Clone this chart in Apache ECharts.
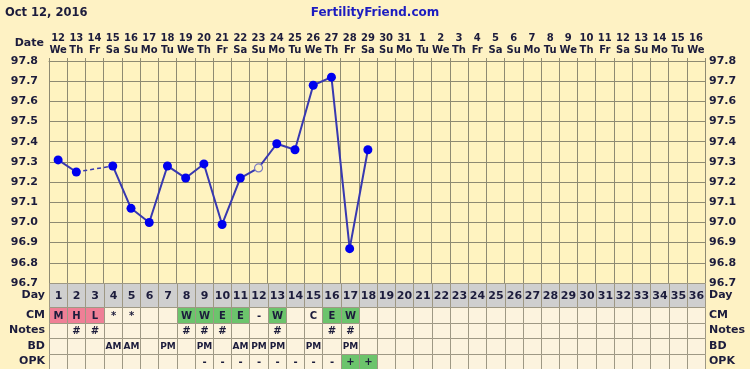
<!DOCTYPE html>
<html>
<head>
<meta charset="utf-8">
<script src="https://cdn.jsdelivr.net/npm/echarts@6/dist/echarts.min.js"></script>
<style>
html,body{margin:0;padding:0;background:#FEF2C4;}
#chart{width:750px;height:369px;}
</style>
</head>
<body>
<div id="chart"></div>
<script>
// ---- data ----
const dateNums = ['12','13','14','15','16','17','18','19','20','21','22','23','24','25','26','27','28','29','30','31','1','2','3','4','5','6','7','8','9','10','11','12','13','14','15','16'];
const dayNames = ['We','Th','Fr','Sa','Su','Mo','Tu','We','Th','Fr','Sa','Su','Mo','Tu','We','Th','Fr','Sa','Su','Mo','Tu','We','Th','Fr','Sa','Su','Mo','Tu','We','Th','Fr','Sa','Su','Mo','Tu','We'];
const cycleDays = ['1','2','3','4','5','6','7','8','9','10','11','12','13','14','15','16','17','18','19','20','21','22','23','24','25','26','27','28','29','30','31','32','33','34','35','36'];
const temps = [97.31, 97.25, null, 97.28, 97.07, 97.00, 97.28, 97.22, 97.29, 96.99, 97.22, 97.27, 97.39, 97.36, 97.68, 97.72, 96.87, 97.36];
const openDays = [12];
const rowNames = ['CM','Notes','BD','OPK'];
const cmRow    = ['M','H','L','*','*','','','W','W','E','E','-','W','','C','E','W',''];
const notesRow = ['','#','#','','','','','#','#','#','','','#','','','#','#',''];
const bdRow    = ['','','','AM','AM','','PM','','PM','','AM','PM','PM','','PM','','PM',''];
const opkRow   = ['','','','','','','','','-','-','-','-','-','-','-','-','+','+'];
const yTicks = {min: 96.7, max: 97.8, step: 0.1};

// ---- styles ----
const PINK = '#EF7F96', GREEN = '#6CC46C', CREAM = '#FCF3DE', GRAY = '#CFCFCF';
const BORDER = '#9E9884', GRID = '#8E8A72', TXT = '#1C1C3C';
const FONT = "'DejaVu Sans', sans-serif";
const fillFor = {M: PINK, H: PINK, L: PINK, W: GREEN, E: GREEN, '+': GREEN};

const N = dateNums.length;
const tableRows = [cmRow, notesRow, bdRow, opkRow];
const cells = [];
for (let r = 0; r < tableRows.length; r++) {
  for (let i = 0; i < N; i++) {
    const t = tableRows[r][i] || '';
    cells.push({col: i, row: r, text: t, fill: (r === 0 || r === 3) && fillFor[t] ? fillFor[t] : CREAM});
  }
}
const dayCells = cycleDays.map((d, i) => ({col: i, row: 0, text: d, fill: GRAY}));

// main series data
const mainData = temps.map((v, i) => {
  if (v == null) return '-';
  if (openDays.indexOf(i + 1) >= 0) {
    return {value: v, symbol: 'circle', symbolSize: 8,
      itemStyle: {color: '#FFF4C0', borderColor: '#7C7CC4', borderWidth: 1.2}};
  }
  return v;
});
// dashed bridges across missing days
const bridgeData = new Array(temps.length).fill('-');
for (let i = 0; i < temps.length; i++) {
  if (temps[i] == null) {
    let a = i - 1, b = i + 1;
    while (a >= 0 && temps[a] == null) a--;
    while (b < temps.length && temps[b] == null) b++;
    if (a >= 0 && b < temps.length) { bridgeData[a] = temps[a]; bridgeData[b] = temps[b]; }
  }
}

function cellRenderer(list, fontSizeFn) {
  return function (params, api) {
    const c = list[params.dataIndex];
    const p = api.coord([api.value(0), api.value(1)]);
    const s = api.size([1, 1]);
    const x0 = Math.round(p[0] - s[0] / 2) + 0.5, x1 = Math.round(p[0] + s[0] / 2) + 0.5;
    const y0 = Math.round(p[1] - s[1] / 2) + 0.5, y1 = Math.round(p[1] + s[1] / 2) + 0.5;
    return {type: 'group', children: [
      {type: 'rect', shape: {x: x0, y: y0, width: x1 - x0, height: y1 - y0},
        style: {fill: c.fill, stroke: BORDER, lineWidth: 1}},
      {type: 'text', style: {text: c.text, x: (x0 + x1) / 2, y: (y0 + y1) / 2 + 0.5,
        align: 'center', verticalAlign: 'middle',
        font: 'bold ' + fontSizeFn(c.text) + 'px ' + FONT, fill: TXT}}
    ]};
  };
}

const chart = echarts.init(document.getElementById('chart'), null, {renderer: 'canvas'});
const labelFmt = v => Number(v).toFixed(1);
chart.setOption({
  backgroundColor: '#FEF2C4',
  animation: false,
  textStyle: {fontFamily: FONT},
  graphic: [
    {type: 'text', left: 5, top: 7, style: {text: 'Oct 12, 2016', font: 'bold 11.5px ' + FONT, fill: TXT}},
    {type: 'text', left: 'center', top: 7, style: {text: 'FertilityFriend.com', font: 'bold 12px ' + FONT, fill: '#1C1CC0'}},
    {type: 'text', right: 706, top: 38, style: {text: 'Date', font: 'bold 11px ' + FONT, fill: TXT}}
  ],
  grid: [
    {left: 49, right: 45, top: 61, height: 222, show: true, backgroundColor: '#FFF3C0', borderWidth: 0},
    {left: 49, right: 45, top: 283, height: 24},
    {left: 49, right: 45, top: 307, height: 62}
  ],
  xAxis: [
    {type: 'category', gridIndex: 0, position: 'top', data: dateNums, boundaryGap: true,
      axisLine: {show: true, lineStyle: {color: GRID}},
      axisTick: {show: true, length: 3, interval: 0, lineStyle: {color: GRID}},
      axisLabel: {interval: 0, margin: 5, color: TXT, fontWeight: 'bold', fontSize: 10, lineHeight: 12,
        fontFamily: FONT, formatter: (v, i) => v + '\n' + dayNames[i]},
      splitLine: {show: true, interval: 0, lineStyle: {color: GRID, width: 1}}},
    {type: 'category', gridIndex: 1, data: cycleDays, show: false},
    {type: 'category', gridIndex: 2, data: cycleDays, show: false}
  ],
  yAxis: [
    {type: 'value', gridIndex: 0, min: yTicks.min, max: yTicks.max, interval: yTicks.step, position: 'left',
      axisLine: {show: true, lineStyle: {color: GRID}}, axisTick: {show: false},
      axisLabel: {margin: 11, color: TXT, fontWeight: 'bold', fontSize: 11, fontFamily: FONT, formatter: labelFmt},
      splitLine: {show: true, lineStyle: {color: GRID, width: 1}}},
    {type: 'value', gridIndex: 0, min: yTicks.min, max: yTicks.max, interval: yTicks.step, position: 'right',
      axisLine: {show: true, lineStyle: {color: GRID}}, axisTick: {show: false},
      axisLabel: {margin: 4, color: TXT, fontWeight: 'bold', fontSize: 11, fontFamily: FONT, formatter: labelFmt},
      splitLine: {show: false}},
    {type: 'category', gridIndex: 1, data: ['Day'], position: 'left',
      axisLine: {show: false}, axisTick: {show: false},
      axisLabel: {margin: 4, color: TXT, fontWeight: 'bold', fontSize: 11, fontFamily: FONT}},
    {type: 'category', gridIndex: 1, data: ['Day'], position: 'right',
      axisLine: {show: false}, axisTick: {show: false},
      axisLabel: {margin: 4, color: TXT, fontWeight: 'bold', fontSize: 11, fontFamily: FONT}},
    {type: 'category', gridIndex: 2, data: rowNames, inverse: true, position: 'left',
      axisLine: {show: false}, axisTick: {show: false},
      axisLabel: {margin: 4, color: TXT, fontWeight: 'bold', fontSize: 11, fontFamily: FONT}},
    {type: 'category', gridIndex: 2, data: rowNames, inverse: true, position: 'right',
      axisLine: {show: false}, axisTick: {show: false},
      axisLabel: {margin: 4, color: TXT, fontWeight: 'bold', fontSize: 11, fontFamily: FONT}}
  ],
  series: [
    {type: 'line', xAxisIndex: 0, yAxisIndex: 0, data: bridgeData, connectNulls: true, showSymbol: false,
      symbol: 'none', lineStyle: {color: '#3838B0', width: 1.5, type: [4, 3]}, z: 2, silent: true},
    {type: 'line', xAxisIndex: 0, yAxisIndex: 0, data: mainData, connectNulls: false,
      symbol: 'circle', symbolSize: 9, showAllSymbol: true,
      itemStyle: {color: '#0000EE'}, lineStyle: {color: '#3838B0', width: 2}, z: 3},
    {type: 'custom', xAxisIndex: 1, yAxisIndex: 2, data: dayCells.map(c => [c.col, c.row]),
      renderItem: cellRenderer(dayCells, () => 11)},
    {type: 'custom', xAxisIndex: 2, yAxisIndex: 4, data: cells.map(c => [c.col, c.row]),
      renderItem: cellRenderer(cells, t => (t.length > 1 ? 9 : 10))}
  ]
});
</script>
</body>
</html>
